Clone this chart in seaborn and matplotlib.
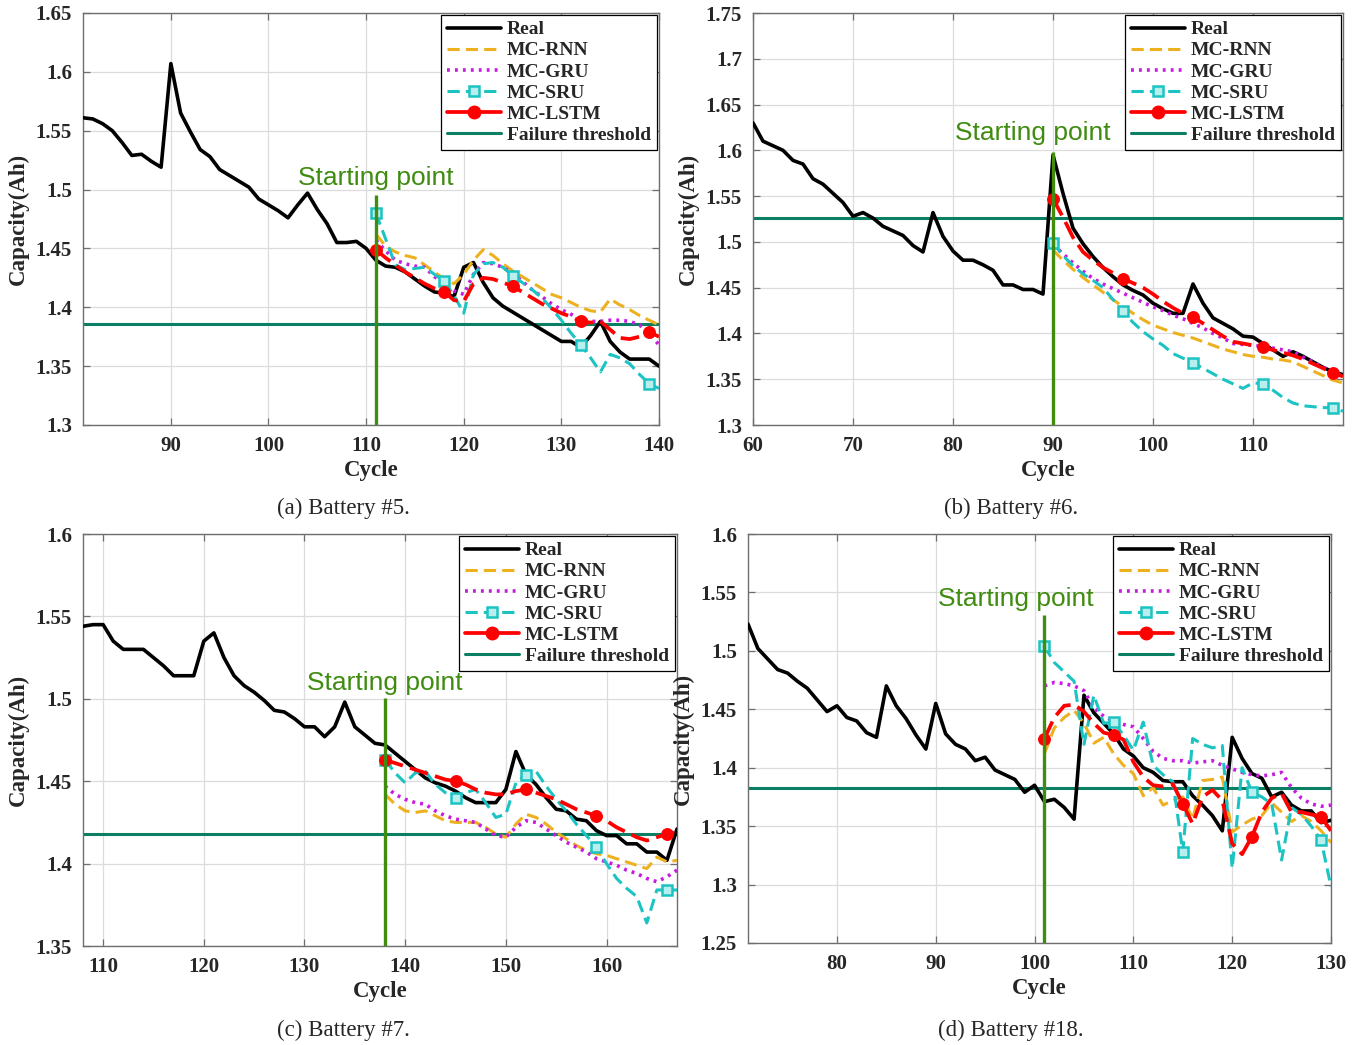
import numpy as np
import pandas as pd
import matplotlib
matplotlib.use("Agg")
import matplotlib.pyplot as plt
import seaborn as sns
from matplotlib.lines import Line2D

# ---------------- data ----------------
# Battery #5
b5_cycles = list(range(81, 141))
b5_real = [1.561, 1.560, 1.556, 1.550, 1.540, 1.529, 1.530, 1.524, 1.519, 1.607,
           1.565, 1.549, 1.534, 1.528, 1.517, 1.512, 1.507, 1.502, 1.492, 1.487,
           1.482, 1.476, 1.487, 1.497, 1.483, 1.471, 1.455, 1.455, 1.456, 1.450,
           1.440, 1.435, 1.434, 1.430, 1.424, 1.418, 1.413, 1.412, 1.409, 1.434,
           1.438, 1.421, 1.408, 1.401, 1.396, 1.391, 1.386, 1.381, 1.376, 1.371,
           1.371, 1.366, 1.376, 1.388, 1.371, 1.362, 1.356, 1.356, 1.356, 1.350]
b5_pred_cycles = list(range(111, 141))
b5_rnn = [1.462, 1.452, 1.447, 1.444, 1.442, 1.436, 1.430, 1.424, 1.420, 1.428,
          1.440, 1.449, 1.444, 1.437, 1.431, 1.426, 1.421, 1.416, 1.411, 1.408,
          1.404, 1.400, 1.397, 1.396, 1.407, 1.402, 1.398, 1.393, 1.389, 1.385]
b5_gru = [1.457, 1.448, 1.440, 1.437, 1.435, 1.434, 1.426, 1.420, 1.414, 1.411,
          1.428, 1.438, 1.437, 1.434, 1.429, 1.422, 1.415, 1.409, 1.403, 1.398,
          1.394, 1.390, 1.388, 1.388, 1.389, 1.389, 1.388, 1.385, 1.378, 1.368]
b5_sru = [1.480, 1.458, 1.436, 1.432, 1.433, 1.434, 1.428, 1.422, 1.410, 1.395,
          1.428, 1.437, 1.438, 1.434, 1.427, 1.421, 1.415, 1.408, 1.399, 1.389,
          1.378, 1.368, 1.357, 1.345, 1.360, 1.357, 1.352, 1.343, 1.335, 1.331]
b5_lstm = [1.449, 1.442, 1.436, 1.430, 1.425, 1.420, 1.416, 1.413, 1.406, 1.405,
           1.420, 1.425, 1.424, 1.421, 1.418, 1.413, 1.408, 1.403, 1.399, 1.395,
           1.392, 1.388, 1.387, 1.388, 1.381, 1.374, 1.373, 1.375, 1.379, 1.375]
b5_threshold = 1.386
b5_start = 111

# Battery #6
b6_cycles = list(range(60, 120))
b6_real = [1.630, 1.610, 1.605, 1.600, 1.589, 1.585, 1.569, 1.563, 1.553, 1.543,
           1.528, 1.532, 1.526, 1.517, 1.512, 1.507, 1.496, 1.489, 1.532, 1.506,
           1.490, 1.480, 1.480, 1.475, 1.469, 1.453, 1.453, 1.448, 1.448, 1.443,
           1.595, 1.553, 1.515, 1.498, 1.484, 1.472, 1.462, 1.453, 1.447, 1.442,
           1.433, 1.427, 1.422, 1.422, 1.454, 1.433, 1.417, 1.411, 1.405, 1.397,
           1.396, 1.389, 1.382, 1.375, 1.380, 1.375, 1.369, 1.363, 1.358, 1.355]
b6_pred_cycles = list(range(90, 120))
b6_rnn = [1.491, 1.480, 1.470, 1.461, 1.453, 1.445, 1.437, 1.429, 1.422, 1.415,
          1.409, 1.405, 1.401, 1.398, 1.395, 1.391, 1.387, 1.383, 1.380, 1.377,
          1.375, 1.374, 1.372, 1.371, 1.369, 1.364, 1.359, 1.354, 1.349, 1.346]
b6_gru = [1.497, 1.487, 1.477, 1.468, 1.460, 1.454, 1.449, 1.444, 1.439, 1.434,
          1.429, 1.425, 1.420, 1.416, 1.411, 1.406, 1.400, 1.395, 1.389, 1.388,
          1.387, 1.386, 1.384, 1.382, 1.380, 1.374, 1.369, 1.363, 1.358, 1.353]
b6_sru = [1.499, 1.485, 1.474, 1.465, 1.458, 1.450, 1.437, 1.424, 1.412, 1.402,
          1.394, 1.387, 1.378, 1.373, 1.368, 1.362, 1.356, 1.350, 1.345, 1.340,
          1.346, 1.345, 1.338, 1.330, 1.324, 1.321, 1.320, 1.319, 1.319, 1.315]
b6_lstm = [1.547, 1.527, 1.505, 1.489, 1.480, 1.472, 1.466, 1.460, 1.455, 1.450,
           1.443, 1.435, 1.428, 1.422, 1.418, 1.411, 1.404, 1.397, 1.391, 1.389,
           1.387, 1.385, 1.382, 1.379, 1.376, 1.372, 1.367, 1.362, 1.357, 1.353]
b6_threshold = 1.526
b6_start = 90

# Battery #7
b7_cycles = list(range(108, 168))
b7_real = [1.544, 1.545, 1.545, 1.535, 1.530, 1.530, 1.530, 1.525, 1.520, 1.514,
           1.514, 1.514, 1.535, 1.540, 1.525, 1.514, 1.508, 1.504, 1.499, 1.493,
           1.492, 1.488, 1.483, 1.483, 1.477, 1.483, 1.498, 1.483, 1.478, 1.473,
           1.472, 1.467, 1.462, 1.457, 1.452, 1.449, 1.447, 1.444, 1.440, 1.437,
           1.437, 1.437, 1.445, 1.468, 1.454, 1.448, 1.440, 1.433, 1.432, 1.427,
           1.426, 1.420, 1.417, 1.417, 1.412, 1.412, 1.407, 1.407, 1.402, 1.421]
b7_pred_cycles = list(range(138, 168))
b7_rnn = [1.442, 1.436, 1.432, 1.431, 1.432, 1.429, 1.426, 1.425, 1.425, 1.425,
          1.422, 1.418, 1.416, 1.424, 1.430, 1.428, 1.424, 1.419, 1.415, 1.411,
          1.408, 1.406, 1.405, 1.403, 1.401, 1.399, 1.397, 1.404, 1.401, 1.402]
b7_gru = [1.447, 1.442, 1.439, 1.437, 1.436, 1.432, 1.429, 1.427, 1.426, 1.425,
          1.421, 1.417, 1.416, 1.422, 1.426, 1.425, 1.421, 1.417, 1.413, 1.410,
          1.407, 1.403, 1.401, 1.399, 1.396, 1.394, 1.391, 1.389, 1.392, 1.396]
b7_sru = [1.463, 1.455, 1.449, 1.455, 1.456, 1.448, 1.443, 1.440, 1.443, 1.445,
          1.437, 1.428, 1.430, 1.449, 1.454, 1.456, 1.447, 1.439, 1.432, 1.424,
          1.417, 1.410, 1.400, 1.391, 1.385, 1.380, 1.364, 1.384, 1.384, 1.384]
b7_lstm = [1.463, 1.461, 1.459, 1.457, 1.455, 1.453, 1.451, 1.450, 1.448, 1.445,
           1.443, 1.442, 1.442, 1.444, 1.445, 1.443, 1.441, 1.439, 1.436, 1.433,
           1.431, 1.429, 1.426, 1.422, 1.419, 1.416, 1.414, 1.416, 1.418, 1.419]
b7_threshold = 1.418
b7_start = 138

# Battery #18
b18_cycles = list(range(71, 131))
b18_real = [1.523, 1.502, 1.493, 1.484, 1.481, 1.474, 1.468, 1.458, 1.448, 1.453,
            1.443, 1.440, 1.430, 1.426, 1.470, 1.453, 1.442, 1.428, 1.416, 1.455,
            1.429, 1.420, 1.416, 1.406, 1.409, 1.398, 1.394, 1.390, 1.379, 1.385,
            1.371, 1.373, 1.366, 1.356, 1.462, 1.447, 1.438, 1.429, 1.416, 1.410,
            1.400, 1.396, 1.389, 1.388, 1.388, 1.376, 1.368, 1.359, 1.346, 1.426,
            1.408, 1.395, 1.391, 1.375, 1.379, 1.368, 1.363, 1.363, 1.353, 1.355]
b18_pred_cycles = list(range(101, 131))
b18_rnn = [1.412, 1.434, 1.443, 1.449, 1.438, 1.421, 1.426, 1.412, 1.402, 1.395,
           1.376, 1.383, 1.368, 1.372, 1.375, 1.356, 1.389, 1.390, 1.392, 1.345,
           1.351, 1.356, 1.359, 1.370, 1.362, 1.354, 1.359, 1.354, 1.346, 1.336]
b18_gru = [1.470, 1.473, 1.472, 1.470, 1.466, 1.451, 1.444, 1.440, 1.437, 1.435,
           1.425, 1.414, 1.408, 1.406, 1.406, 1.404, 1.405, 1.406, 1.402, 1.399,
           1.396, 1.394, 1.393, 1.394, 1.396, 1.383, 1.374, 1.369, 1.367, 1.368]
b18_sru = [1.504, 1.490, 1.482, 1.474, 1.420, 1.462, 1.438, 1.439, 1.428, 1.415,
           1.439, 1.402, 1.394, 1.388, 1.328, 1.425, 1.420, 1.417, 1.419, 1.314,
           1.400, 1.379, 1.375, 1.369, 1.321, 1.366, 1.360, 1.350, 1.338, 1.298]
b18_lstm = [1.425, 1.443, 1.453, 1.454, 1.448, 1.438, 1.430, 1.428, 1.424, 1.405,
            1.392, 1.385, 1.384, 1.386, 1.369, 1.352, 1.375, 1.381, 1.372, 1.335,
            1.326, 1.341, 1.362, 1.374, 1.378, 1.362, 1.362, 1.360, 1.358, 1.346]
b18_threshold = 1.383
b18_start = 101

captions = ["(a) Battery #5.", "(b) Battery #6.", "(c) Battery #7.", "(d) Battery #18."]
series_names = ["Real", "MC-RNN", "MC-GRU", "MC-SRU", "MC-LSTM", "Failure threshold"]

b5_xticks = [90, 100, 110, 120, 130, 140]
b6_xticks = [60, 70, 80, 90, 100, 110]
b7_xticks = [110, 120, 130, 140, 150, 160]
b18_xticks = [80, 90, 100, 110, 120, 130]
b5_yticks = ["1.3", "1.35", "1.4", "1.45", "1.5", "1.55", "1.6", "1.65"]
b6_yticks = ["1.3", "1.35", "1.4", "1.45", "1.5", "1.55", "1.6", "1.65", "1.7", "1.75"]
b7_yticks = ["1.35", "1.4", "1.45", "1.5", "1.55", "1.6"]
b18_yticks = ["1.25", "1.3", "1.35", "1.4", "1.45", "1.5", "1.55", "1.6"]

# ---------------- styling ----------------
sns.set_style("whitegrid")
plt.rcParams['font.family'] = ['Liberation Serif', 'DejaVu Serif']

C_REAL = "black"
C_RNN = "#EDB120"
C_GRU = "#C71CE0"
C_SRU = "#1CC3C3"
C_LSTM = "#FF0000"
C_THR = "#0B7F64"
C_START = "#3F8C10"

fig = plt.figure(figsize=(13.61, 10.45), dpi=100)

panels = [
    dict(rect=[83, 13, 659, 425], cyc=b5_cycles, real=b5_real, pc=b5_pred_cycles,
         rnn=b5_rnn, gru=b5_gru, sru=b5_sru, lstm=b5_lstm, thr=b5_threshold,
         start=b5_start, xlim=(81, 140), ylim=(1.3, 1.65), xt=b5_xticks, yt=b5_yticks,
         vtop=1.4955, txt=(111, 1.510), cap=(343, 508)),
    dict(rect=[753, 13, 1343, 425], cyc=b6_cycles, real=b6_real, pc=b6_pred_cycles,
         rnn=b6_rnn, gru=b6_gru, sru=b6_sru, lstm=b6_lstm, thr=b6_threshold,
         start=b6_start, xlim=(60, 119), ylim=(1.3, 1.75), xt=b6_xticks, yt=b6_yticks,
         vtop=1.598, txt=(88.0, 1.619), cap=(1011, 508)),
    dict(rect=[83, 534, 677, 946], cyc=b7_cycles, real=b7_real, pc=b7_pred_cycles,
         rnn=b7_rnn, gru=b7_gru, sru=b7_sru, lstm=b7_lstm, thr=b7_threshold,
         start=b7_start, xlim=(108, 167), ylim=(1.35, 1.6), xt=b7_xticks, yt=b7_yticks,
         vtop=1.5005, txt=(138, 1.5096), cap=(343, 1030)),
    dict(rect=[748, 534, 1331, 943], cyc=b18_cycles, real=b18_real, pc=b18_pred_cycles,
         rnn=b18_rnn, gru=b18_gru, sru=b18_sru, lstm=b18_lstm, thr=b18_threshold,
         start=b18_start, xlim=(71, 130), ylim=(1.25, 1.6), xt=b18_xticks, yt=b18_yticks,
         vtop=1.5307, txt=(98.1, 1.5444), cap=(1011, 1030)),
]

W, H = 1361.0, 1045.0
bold = dict(family=['Liberation Serif'], weight='bold')

for p, caption in zip(panels, captions):
    l, t, r, b = p["rect"]
    ax = fig.add_axes([l / W, 1 - b / H, (r - l) / W, (b - t) / H])

    sns.lineplot(x=p["cyc"], y=p["real"], ax=ax, color=C_REAL, lw=2.6, zorder=3)
    sns.lineplot(x=p["pc"], y=p["rnn"], ax=ax, color=C_RNN, lw=2.2,
                 linestyle=(0, (4, 2)), zorder=4)
    sns.lineplot(x=p["pc"], y=p["gru"], ax=ax, color=C_GRU, lw=2.6,
                 linestyle=(0, (0.8, 1.4)), zorder=4)
    sns.lineplot(x=p["pc"], y=p["sru"], ax=ax, color=C_SRU, lw=2.2,
                 linestyle=(0, (4, 2)), marker="s", markersize=7, markevery=7,
                 markerfacecolor="#b8eeee", markeredgecolor=C_SRU,
                 markeredgewidth=1.8, zorder=4)
    sns.lineplot(x=p["pc"], y=p["lstm"], ax=ax, color=C_LSTM, lw=2.7,
                 linestyle=(0, (5, 2)), marker="o", markersize=8.5, markevery=7,
                 markerfacecolor=C_LSTM, markeredgecolor=C_LSTM, zorder=5)
    ax.axhline(p["thr"], color=C_THR, lw=2.2, zorder=2)
    ax.vlines(p["start"], p["ylim"][0], p["vtop"], color=C_START, lw=2.4, zorder=6)
    ax.text(p["txt"][0], p["txt"][1], "Starting point", color=C_START,
            fontsize=19, family=['Liberation Sans'], ha='center', va='center')

    ax.set_xlim(*p["xlim"])
    ax.set_ylim(*p["ylim"])
    ax.set_xticks(p["xt"])
    ax.set_xticklabels([str(v) for v in p["xt"]], **bold, fontsize=15)
    ax.set_yticks([float(s) for s in p["yt"]])
    ax.set_yticklabels(p["yt"], **bold, fontsize=15)
    ax.set_xlabel("Cycle", **bold, fontsize=16.5, labelpad=3)
    ax.set_ylabel("Capacity(Ah)", **bold, fontsize=16.5, labelpad=5)

    ax.grid(True, color="#dcdcdc", lw=0.9)
    for sp in ax.spines.values():
        sp.set_color("#6e6e6e")
        sp.set_linewidth(1.0)
    ax.tick_params(direction='in', length=5, width=0.9, color="#6e6e6e",
                   top=True, right=True, left=True, bottom=True, pad=8)

    handles = [
        Line2D([], [], color=C_REAL, lw=2.6),
        Line2D([], [], color=C_RNN, lw=2.2, linestyle=(0, (4, 2))),
        Line2D([], [], color=C_GRU, lw=2.6, linestyle=(0, (0.8, 1.4))),
        Line2D([], [], color=C_SRU, lw=2.2, linestyle=(0, (4, 2)), marker="s",
               markersize=7, markerfacecolor="#b8eeee", markeredgecolor=C_SRU,
               markeredgewidth=1.8),
        Line2D([], [], color=C_LSTM, lw=2.7, linestyle="-", marker="o",
               markersize=9, markerfacecolor=C_LSTM, markeredgecolor=C_LSTM),
        Line2D([], [], color=C_THR, lw=2.2),
    ]
    leg = ax.legend(handles, series_names, loc="upper right",
                    prop=dict(family='Liberation Serif', weight='bold', size=14),
                    handlelength=2.8, handletextpad=0.3, labelspacing=0.18,
                    borderpad=0.3, borderaxespad=0.1, fancybox=False,
                    framealpha=1, edgecolor="black")
    leg.get_frame().set_linewidth(0.9)
    leg.set_zorder(10)

    fig.text(p["cap"][0] / W, 1 - p["cap"][1] / H, caption, ha='center', va='center',
             fontsize=16.5, family=['Liberation Serif'])

fig.savefig("out.png", dpi=100)
